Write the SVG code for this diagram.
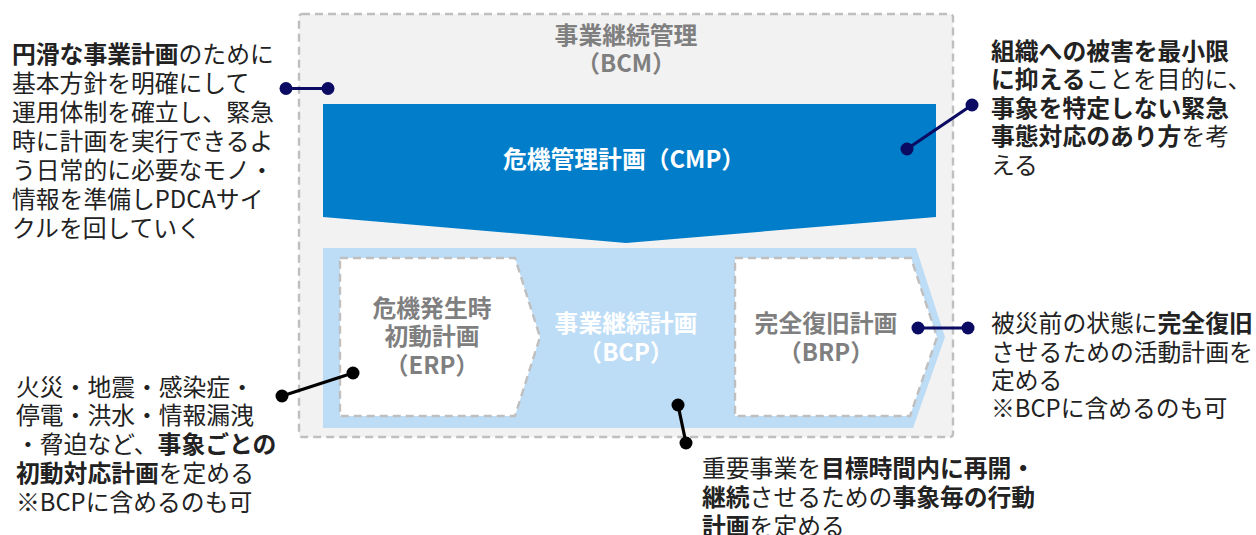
<svg xmlns="http://www.w3.org/2000/svg" width="1256" height="535" viewBox="0 0 1256 535">
<style>
text{font-family:"Noto Sans CJK JP","Noto Sans",sans-serif;font-size:23.8px}
.note{fill:#222}
.b{font-weight:bold}
.lbl{font-weight:bold;text-anchor:middle}
.gray{fill:#7f7f7f}
.white{fill:#fff}
.dash{stroke:#bfbfbf;stroke-width:2.4;stroke-dasharray:8 5}
.navy{stroke:#0b0b63;stroke-width:3.2}
.navyd{fill:#0b0b63}
.blk{stroke:#000;stroke-width:3.2}
.blkd{fill:#000}
</style>
<rect width="1256" height="535" fill="#fff"/>
<g id="bcm">
<rect x="299" y="14" width="654" height="423" rx="3" fill="#f2f2f2" class="dash"/>
<text x="626" y="43.5" class="lbl gray">事業継続管理</text>
<text x="626" y="71.5" class="lbl gray">（BCM）</text>
</g>
<g id="cmp">
<polygon points="323,104 936,104 936,217 626,243 323,217" fill="#017dc9"/>
<text x="624" y="167.5" class="lbl white">危機管理計画（CMP）</text>
</g>
<g id="bcp">
<polygon points="323,248 916,248 945,337 913,428 323,428" fill="#bddcf6"/>
<text x="626" y="331.5" class="lbl white">事業継続計画</text>
<text x="626" y="360.5" class="lbl white">（BCP）</text>
</g>
<g id="erp">
<polygon points="340,258 515,258 540,337 515,416 340,416" fill="#fff" class="dash"/>
<text x="432" y="316.5" class="lbl gray">危機発生時</text>
<text x="432" y="345" class="lbl gray">初動計画</text>
<text x="432" y="373.5" class="lbl gray">（ERP）</text>
</g>
<g id="brp">
<polygon points="735,258 911,258 937,337 910,416 735,416" fill="#fff" class="dash"/>
<text x="826" y="331.5" class="lbl gray">完全復旧計画</text>
<text x="826" y="360.5" class="lbl gray">（BRP）</text>
</g>
<g id="note-bcm" class="note">
<text x="12" y="63"><tspan class="b">円滑な事業計画</tspan>のために</text>
<text x="12" y="92">基本方針を明確にして</text>
<text x="12" y="121">運用体制を確立し、緊急</text>
<text x="12" y="150">時に計画を実行できるよ</text>
<text x="12" y="179">う日常的に必要なモノ・</text>
<text x="12" y="208">情報を準備しPDCAサイ</text>
<text x="12" y="237">クルを回していく</text>
</g>
<g id="note-cmp" class="note">
<text x="991" y="59.5" class="b">組織への被害を最小限</text>
<text x="991" y="88"><tspan class="b">に抑える</tspan>ことを目的に、</text>
<text x="991" y="116.5" class="b">事象を特定しない緊急</text>
<text x="991" y="145"><tspan class="b">事態対応のあり方</tspan>を考</text>
<text x="991" y="173.5">える</text>
</g>
<g id="note-brp" class="note">
<text x="991" y="332">被災前の状態に<tspan class="b">完全復旧</tspan></text>
<text x="991" y="360.5">させるための活動計画を</text>
<text x="991" y="388.5">定める</text>
<text x="991" y="417">※BCPに含めるのも可</text>
</g>
<g id="note-erp" class="note">
<text x="16" y="395.5">火災・地震・感染症・</text>
<text x="16" y="423.5">停電・洪水・情報漏洩</text>
<text x="16" y="452.5">・脅迫など、<tspan class="b">事象ごとの</tspan></text>
<text x="16" y="481.5"><tspan class="b">初動対応計画</tspan>を定める</text>
<text x="16" y="510.5">※BCPに含めるのも可</text>
</g>
<g id="note-bcp" class="note">
<text x="702" y="476.5">重要事業を<tspan class="b">目標時間内に再開・</tspan></text>
<text x="702" y="505.5"><tspan class="b">継続</tspan>させるための<tspan class="b">事象毎の行動</tspan></text>
<text x="702" y="534.5"><tspan class="b">計画</tspan>を定める</text>
</g>
<g id="connectors">
<line x1="286" y1="88.5" x2="328" y2="88.5" class="navy"/>
<circle cx="286" cy="88.5" r="6.5" class="navyd"/>
<circle cx="328" cy="88.5" r="6.5" class="navyd"/>
<line x1="907" y1="149" x2="972" y2="105" class="navy"/>
<circle cx="907" cy="149" r="6.5" class="navyd"/>
<circle cx="972" cy="105" r="6.5" class="navyd"/>
<line x1="918" y1="328" x2="968" y2="328" class="navy"/>
<circle cx="918" cy="328" r="6.5" class="navyd"/>
<circle cx="968" cy="328" r="6.5" class="navyd"/>
<line x1="282" y1="396" x2="353" y2="373" class="blk"/>
<circle cx="282" cy="396" r="6.5" class="blkd"/>
<circle cx="353" cy="373" r="6.5" class="blkd"/>
<line x1="678" y1="405" x2="686" y2="443" class="blk"/>
<circle cx="678" cy="405" r="6.5" class="blkd"/>
<circle cx="686" cy="443" r="6.5" class="blkd"/>
</g>
</svg>
